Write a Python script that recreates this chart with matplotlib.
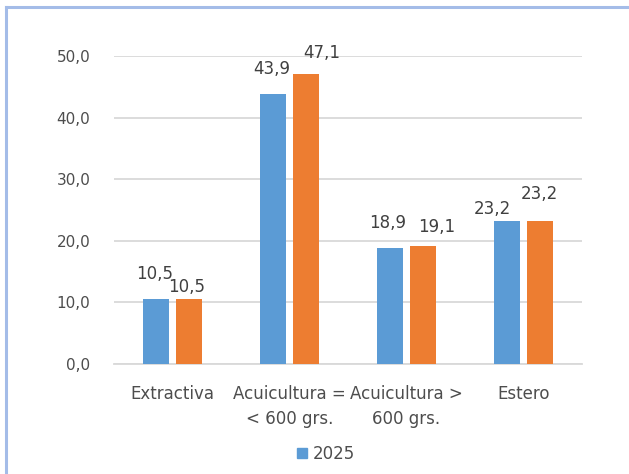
import numpy as np
import matplotlib.pyplot as plt
from matplotlib.patches import Patch
from matplotlib.lines import Line2D

# Data
categories = ['Extractiva', 'Acuicultura =\n< 600 grs.', 'Acuicultura >\n600 grs.', 'Estero']
serie_a = [10.5, 43.9, 18.9, 23.2]   # blue (2025)
serie_b = [10.5, 47.1, 19.1, 23.2]   # orange
legend_label = '2025'

blue = '#5B9BD5'
orange = '#ED7D31'
text_col = '#4D4D4D'

# label offsets in pixels (dx, dy from bar top to baseline), as in the original
off_a = [(-1, 20), (-1, 20), (-2, 20), (-15, 7)]
off_b = [(-2, 7), (16, 16), (14, 14), (-1, 22)]

fig = plt.figure(figsize=(6.29, 4.74), dpi=100)
ax = fig.add_axes([114 / 629, 1 - 364 / 474, 468 / 629, 308 / 474])

x = np.arange(len(categories))
w = 0.226
d = 0.141
bars_a = ax.bar(x - d, serie_a, w, color=blue, zorder=3)
bars_b = ax.bar(x + d, serie_b, w, color=orange, zorder=3)

for bars, vals, offs in [(bars_a, serie_a, off_a), (bars_b, serie_b, off_b)]:
    for b, v, (dx, dy) in zip(bars, vals, offs):
        ax.annotate(f'{v:.1f}'.replace('.', ','),
                    (b.get_x() + b.get_width() / 2, v),
                    xytext=(dx, dy), textcoords='offset pixels',
                    ha='center', va='baseline', fontsize=12, color='#404040')

ax.set_xlim(-0.5, len(categories) - 0.5)
ax.set_ylim(0, 50)
ax.set_yticks(np.arange(0, 51, 10))
ax.set_yticklabels([f'{v:.1f}'.replace('.', ',') for v in np.arange(0, 51, 10)])
ax.set_xticks(x)
ax.set_xticklabels(categories, linespacing=1.5)
ax.tick_params(axis='y', length=0, pad=17, labelsize=11, labelcolor=text_col)
ax.tick_params(axis='x', length=0, pad=15, labelsize=12, labelcolor=text_col)
ax.grid(axis='y', color='#D9D9D9', linewidth=1.3, zorder=0)
for s in ['top', 'right', 'left']:
    ax.spines[s].set_visible(False)
ax.spines['bottom'].set_color('#D9D9D9')
ax.spines['bottom'].set_linewidth(1.3)

fig.legend(handles=[Patch(color=blue)], labels=[legend_label],
           loc='center', bbox_to_anchor=(326 / 629, 1 - 454 / 474),
           frameon=False, fontsize=12, labelcolor=text_col,
           handlelength=0.6, handleheight=0.6, handletextpad=0.4)

# light blue frame around the chart
border = '#A4BCE8'
fig.add_artist(Line2D([6 / 629, 6 / 629], [0, 1 - 7 / 474], color=border, lw=2.2))
fig.add_artist(Line2D([6 / 629, 1], [1 - 7 / 474, 1 - 7 / 474], color=border, lw=2.2))

fig.savefig('out.png', dpi=100)
